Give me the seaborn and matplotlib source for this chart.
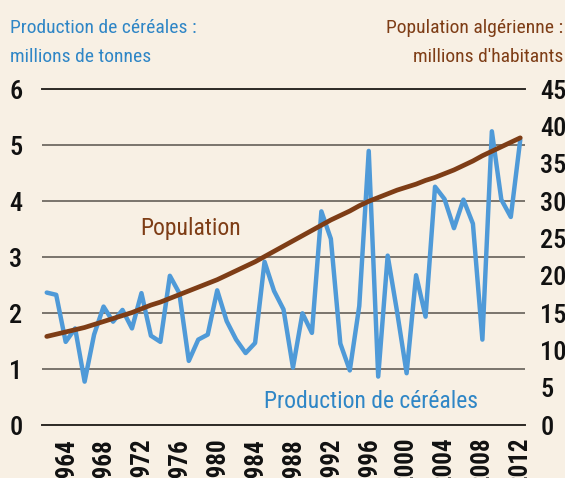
import numpy as np
import pandas as pd
import matplotlib
matplotlib.use("Agg")
import matplotlib.pyplot as plt
import seaborn as sns

# --- Daten ---
years = list(range(1962, 2013))

cereales = [2.37, 2.33, 1.49, 1.73, 0.78, 1.62, 2.12, 1.85, 2.06, 1.73,
            2.36, 1.60, 1.49, 2.67, 2.36, 1.15, 1.53, 1.62, 2.41, 1.86,
            1.53, 1.29, 1.47, 2.92, 2.40, 2.07, 1.03, 2.00, 1.65, 3.82,
            3.33, 1.46, 0.98, 2.13, 4.90, 0.87, 3.03, 2.02, 0.93, 2.68,
            1.94, 4.26, 4.04, 3.52, 4.03, 3.60, 1.53, 5.25, 4.03, 3.72,
            5.10]

population = [11.9, 12.2, 12.5, 12.8, 13.1, 13.5, 13.9, 14.3, 14.7, 15.1,
              15.6, 16.1, 16.5, 17.0, 17.5, 18.0, 18.5, 19.0, 19.5, 20.1,
              20.7, 21.3, 21.9, 22.6, 23.3, 24.0, 24.7, 25.4, 26.1, 26.8,
              27.5, 28.1, 28.7, 29.4, 30.0, 30.5, 31.0, 31.5, 31.9, 32.3,
              32.8, 33.2, 33.7, 34.2, 34.8, 35.4, 36.1, 36.7, 37.3, 37.9,
              38.5]

year_ticks = list(range(1964, 2013, 4))
left_ticks = [0, 1, 2, 3, 4, 5, 6]
right_ticks = [0, 5, 10, 15, 20, 25, 30, 35, 40, 45]

# --- Farben ---
BG = "#f8f0e4"
BLUE = "#4f9ad8"
BLUE_TXT = "#2f86c6"
BROWN = "#7e3d16"

df = pd.DataFrame({"Jahr": years, "Cereales": cereales, "Population": population})

sns.set_theme(style="white")
plt.rcParams["font.family"] = ["Roboto Condensed", "Fira Sans Condensed",
                               "Barlow Condensed", "DejaVu Sans"]

W, H = 565, 478
fig = plt.figure(figsize=(W / 100, H / 100), dpi=100, facecolor=BG)
ax = fig.add_axes([42 / W, 1 - 425.3 / H, (525 - 42) / W, (425.3 - 89.3) / H])
ax.set_facecolor(BG)

sns.lineplot(data=df, x="Jahr", y="Cereales", ax=ax, color=BLUE, linewidth=3.2)
ax.set_xlim(1961.5, 2012.5)
ax.set_ylim(0, 6)
ax.set_yticks(left_ticks)
ax.set_xticks(year_ticks)
ax.set_xticklabels([str(y) for y in year_ticks], rotation=90, fontsize=18,
                   color="#111111", fontweight="semibold")
ax.set_yticklabels([str(t) for t in left_ticks], fontsize=19, color="#111111",
                   fontweight="medium")
ax.tick_params(axis="y", length=0, pad=14)
ax.tick_params(axis="x", length=0, pad=9)
ax.set_xlabel("")
ax.set_ylabel("")
ax.grid(axis="y", color="#7a746c", linewidth=1.4)
ax.grid(axis="x", visible=False)
for side in ["left", "right"]:
    ax.spines[side].set_visible(False)
for side in ["top", "bottom"]:
    ax.spines[side].set_color("#2e2a26")
    ax.spines[side].set_linewidth(1.4)

ax2 = ax.twinx()
sns.lineplot(data=df, x="Jahr", y="Population", ax=ax2, color=BROWN, linewidth=3.4)
ax2.set_ylim(0, 45)
ax2.set_yticks(right_ticks)
ax2.set_yticklabels([str(t) for t in right_ticks], fontsize=19, color="#111111",
                    fontweight="medium")
ax2.tick_params(axis="y", length=0, pad=11)
ax2.set_ylabel("")
for side in ["left", "right", "top", "bottom"]:
    ax2.spines[side].set_visible(False)

# --- Beschriftungen ---
fig.text(10 / W, 1 - 28 / H, "Production de céréales :", color=BLUE_TXT,
         fontsize=14, ha="left", va="center")
fig.text(10 / W, 1 - 57 / H, "millions de tonnes", color=BLUE_TXT,
         fontsize=14, ha="left", va="center")
fig.text(563 / W, 1 - 28 / H, "Population algérienne :", color=BROWN,
         fontsize=14, ha="right", va="center")
fig.text(563 / W, 1 - 57 / H, "millions d'habitants", color=BROWN,
         fontsize=14, ha="right", va="center")

fig.text(191 / W, 1 - 228 / H, "Population", color=BROWN,
         fontsize=17, ha="center", va="center")
fig.text(371 / W, 1 - 402 / H, "Production de céréales", color=BLUE_TXT,
         fontsize=17, ha="center", va="center")

fig.savefig("out.png", dpi=100, facecolor=BG)
